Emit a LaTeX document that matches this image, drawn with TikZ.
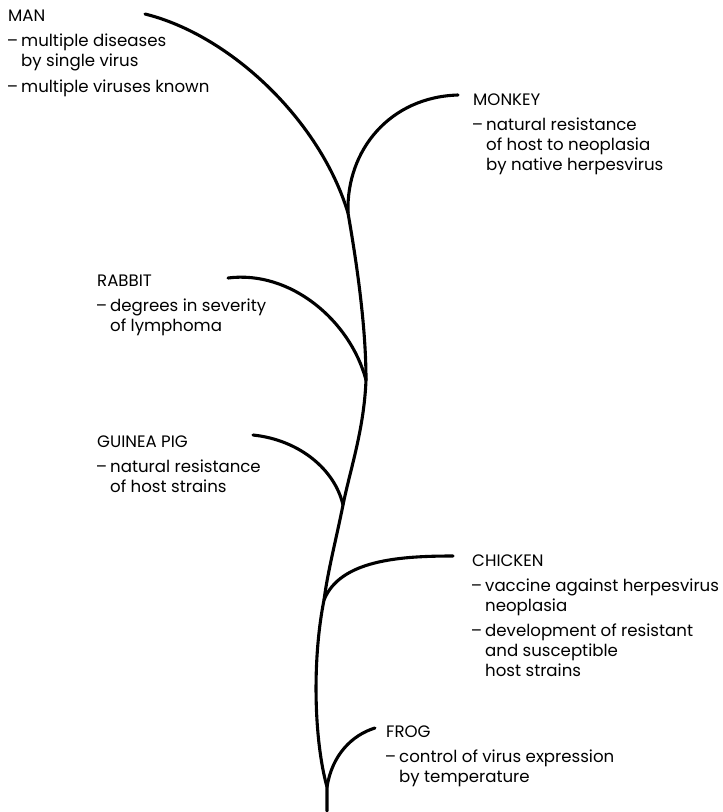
\documentclass[tikz,border=0pt]{standalone}
\usepackage{fontspec}
\setmainfont{Poppins}
% hanging dash for the notes under each host
\newcommand{\hd}{\makebox[13pt][r]{--\hspace{3pt}}}
\newcommand{\hi}{\hspace*{13pt}}
\tikzset{
  stem/.style={line width=3.1pt, line cap=round},
  host/.style={anchor=north west, inner sep=0pt, align=left,
    font=\fontsize{16.6}{20}\selectfont},
}
\begin{document}
\begin{tikzpicture}[x=1pt,y=-1pt]
\useasboundingbox (0,0) rectangle (723,812);

% points where the branches leave the stem
\coordinate (top) at (145,14);
\coordinate (jmonkey) at (348,213);
\coordinate (jrabbit) at (366,380);
\coordinate (jguinea) at (343,505);
\coordinate (jchicken) at (324,600);
\coordinate (jfrog) at (327,787);
\coordinate (root) at (327,811);

% free ends of the branches
\coordinate (tmonkey) at (458,95);
\coordinate (trabbit) at (228,278);
\coordinate (tguinea) at (253,435);
\coordinate (tchicken) at (453,556);
\coordinate (tfrog) at (375,728);

% main stem
\draw[stem] (top) .. controls (230,35) and (320,120) .. (jmonkey)
  .. controls (358,270) and (366,330) .. (jrabbit)
  .. controls (364,430) and (350,470) .. (jguinea)
  .. controls (336,540) and (328,570) .. (jchicken)
  .. controls (312,660) and (314,740) .. (jfrog)
  -- (root);

% side branches
\draw[stem] (jmonkey) .. controls (346,150) and (390,97) .. (tmonkey);
\draw[stem] (trabbit) .. controls (290,270) and (350,320) .. (jrabbit);
\draw[stem] (tguinea) .. controls (300,440) and (335,470) .. (jguinea);
\draw[stem] (jchicken) .. controls (340,560) and (400,556) .. (tchicken);
\draw[stem] (jfrog) .. controls (332,755) and (352,735) .. (tfrog);

% hosts
\node[host] (man) at (8,10) {MAN\\[5pt]
  \hd multiple diseases\\ \hi by single virus\\[6pt]
  \hd multiple viruses known};
\node[host] (monkey) at (473,94) {MONKEY\\[5pt]
  \hd natural resistance\\ \hi of host to neoplasia\\ \hi by native herpesvirus};
\node[host] (rabbit) at (97,275) {RABBIT\\[5pt]
  \hd degrees in severity\\ \hi of lymphoma};
\node[host] (guinea) at (97,436) {GUINEA PIG\\[5pt]
  \hd natural resistance\\ \hi of host strains};
\node[host] (chicken) at (472,555) {CHICKEN\\[5pt]
  \hd vaccine against herpesvirus\\ \hi neoplasia\\[5pt]
  \hd development of resistant\\ \hi and susceptible\\ \hi host strains};
\node[host] (frog) at (386,726) {FROG\\[5pt]
  \hd control of virus expression\\ \hi by temperature};
\end{tikzpicture}
\end{document}
